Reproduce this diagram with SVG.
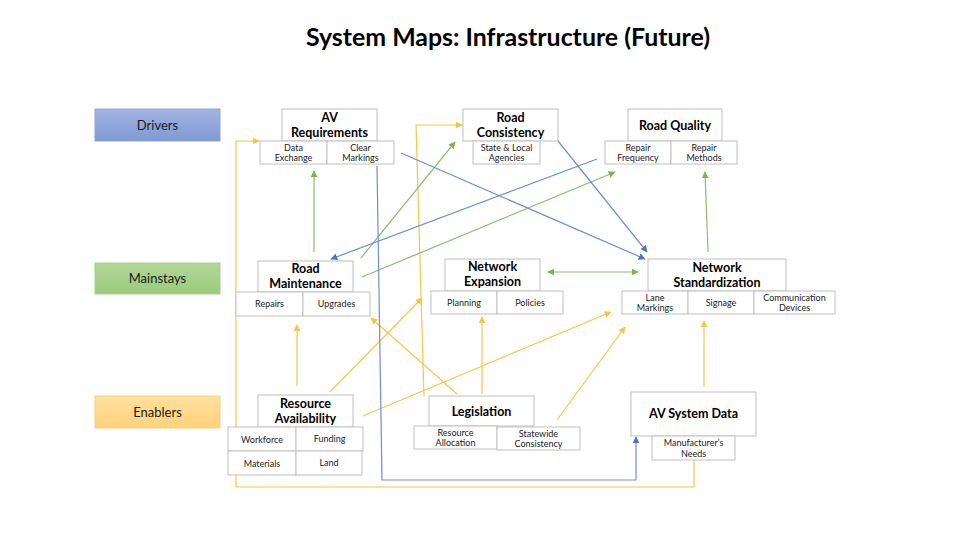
<svg xmlns="http://www.w3.org/2000/svg" width="960" height="540" viewBox="0 0 960 540">
<style>
.bx{fill:#fff;stroke:#BFBFBF;stroke-width:1}
.t{font-family:Lato,"Liberation Sans",sans-serif;font-weight:bold;font-size:12.5px;fill:#000;text-anchor:middle}
.s{font-family:Lato,"Liberation Sans",sans-serif;font-size:9px;fill:#222;text-anchor:middle}
.lb{font-family:Lato,"Liberation Sans",sans-serif;font-size:13px;fill:#1a1a1a;text-anchor:middle}
.y{fill:none;stroke:#F6C646;stroke-width:1.2}
.g{fill:none;stroke:#8DBF6A;stroke-width:1.2}
.b{fill:none;stroke:#6F8FD0;stroke-width:1.2}
</style>
<defs>
<linearGradient id="gb" x1="0" y1="0" x2="0" y2="1"><stop offset="0" stop-color="#A3B5E3"/><stop offset="1" stop-color="#7F99D4"/></linearGradient>
<linearGradient id="gg" x1="0" y1="0" x2="0" y2="1"><stop offset="0" stop-color="#B1D798"/><stop offset="1" stop-color="#9BCB7D"/></linearGradient>
<linearGradient id="gy" x1="0" y1="0" x2="0" y2="1"><stop offset="0" stop-color="#FFE09E"/><stop offset="1" stop-color="#FFD27A"/></linearGradient>
<marker id="ay" viewBox="0 0 10 10" refX="9" refY="5" markerWidth="7" markerHeight="7" markerUnits="userSpaceOnUse" orient="auto-start-reverse"><path d="M0,0L10,5L0,10z" fill="#F6C646"/></marker>
<marker id="ag" viewBox="0 0 10 10" refX="9" refY="5" markerWidth="7" markerHeight="7" markerUnits="userSpaceOnUse" orient="auto-start-reverse"><path d="M0,0L10,5L0,10z" fill="#7DB356"/></marker>
<marker id="ab" viewBox="0 0 10 10" refX="9" refY="5" markerWidth="7" markerHeight="7" markerUnits="userSpaceOnUse" orient="auto-start-reverse"><path d="M0,0L10,5L0,10z" fill="#4F73C0"/></marker>
</defs>
<rect width="960" height="540" fill="#fff"/>
<text x="508" y="46" font-family="Lato,'Liberation Sans',sans-serif" font-weight="bold" font-size="24" text-anchor="middle" textLength="404" lengthAdjust="spacingAndGlyphs">System Maps: Infrastructure (Future)</text>

<g id="label-drivers"><rect x="95" y="109" width="125" height="32" fill="url(#gb)" stroke="#8EA3D6"/><text class="lb" x="157.5" y="130">Drivers</text></g>
<g id="label-mainstays"><rect x="95" y="263" width="125" height="31" fill="url(#gg)" stroke="#A6CF8C"/><text class="lb" x="157.5" y="283">Mainstays</text></g>
<g id="label-enablers"><rect x="95" y="396" width="125" height="32" fill="url(#gy)" stroke="#F5D080"/><text class="lb" x="157.5" y="417">Enablers</text></g>

<g id="connectors">
<polyline class="y" points="694,460 694,487 236,487 236,141 259,141" marker-end="url(#ay)"/>
<polyline class="y" points="424,396 416,125 462,125" marker-end="url(#ay)"/>
<line class="y" x1="330" y1="392" x2="422" y2="298" marker-end="url(#ay)"/>
<line class="y" x1="363" y1="416" x2="611" y2="312" marker-end="url(#ay)"/>
<line class="y" x1="297" y1="386" x2="297" y2="325" marker-end="url(#ay)"/>
<line class="y" x1="457" y1="394" x2="371" y2="318" marker-end="url(#ay)"/>
<line class="y" x1="482" y1="394" x2="482" y2="317" marker-end="url(#ay)"/>
<line class="y" x1="557" y1="420" x2="625" y2="327" marker-end="url(#ay)"/>
<line class="y" x1="704" y1="387" x2="704" y2="321" marker-end="url(#ay)"/>

<line class="g" x1="314" y1="252" x2="314" y2="171" marker-end="url(#ag)"/>
<line class="g" x1="361" y1="258" x2="455" y2="142" marker-end="url(#ag)"/>
<line class="g" x1="362" y1="277" x2="615" y2="172" marker-end="url(#ag)"/>
<line class="g" x1="708" y1="252" x2="705" y2="172" marker-end="url(#ag)"/>
<line class="g" x1="548" y1="272" x2="638" y2="272" marker-start="url(#ag)" marker-end="url(#ag)"/>

<line class="b" x1="401" y1="153" x2="645" y2="259" marker-end="url(#ab)"/>
<line class="b" x1="558" y1="141" x2="647" y2="252" marker-end="url(#ab)"/>
<line class="b" x1="597" y1="159" x2="331" y2="259" marker-end="url(#ab)"/>
<polyline class="b" points="377,166 382,480 636,480 636,437" marker-end="url(#ab)"/>
</g>

<g id="node-av-requirements">
<rect class="bx" x="282" y="109" width="95" height="32"/>
<text class="t" x="329.5" y="122">AV</text><text class="t" x="329.5" y="137">Requirements</text>
<rect class="bx" x="260" y="141" width="67" height="23"/><rect class="bx" x="327" y="141" width="67" height="23"/>
<text class="s" x="293.5" y="150.5">Data</text><text class="s" x="293.5" y="161">Exchange</text>
<text class="s" x="360.5" y="150.5">Clear</text><text class="s" x="360.5" y="161">Markings</text>
</g>

<g id="node-road-consistency">
<rect class="bx" x="463" y="109" width="95" height="32"/>
<text class="t" x="510.5" y="122">Road</text><text class="t" x="510.5" y="137">Consistency</text>
<rect class="bx" x="473" y="141" width="67" height="23"/>
<text class="s" x="506.5" y="150.5">State &amp; Local</text><text class="s" x="506.5" y="161">Agencies</text>
</g>

<g id="node-road-quality">
<rect class="bx" x="628" y="109" width="94" height="32"/>
<text class="t" x="675" y="130">Road Quality</text>
<rect class="bx" x="605" y="141" width="66" height="23"/><rect class="bx" x="671" y="141" width="66" height="23"/>
<text class="s" x="638" y="150.5">Repair</text><text class="s" x="638" y="161">Frequency</text>
<text class="s" x="704" y="150.5">Repair</text><text class="s" x="704" y="161">Methods</text>
</g>

<g id="node-road-maintenance">
<rect class="bx" x="258" y="261" width="95" height="31"/>
<text class="t" x="305.5" y="273">Road</text><text class="t" x="305.5" y="288">Maintenance</text>
<rect class="bx" x="236" y="292" width="67" height="24"/><rect class="bx" x="303" y="292" width="67" height="24"/>
<text class="s" x="269.5" y="307">Repairs</text><text class="s" x="336.5" y="307">Upgrades</text>
</g>

<g id="node-network-expansion">
<rect class="bx" x="445" y="259" width="95" height="32"/>
<text class="t" x="492.5" y="271">Network</text><text class="t" x="492.5" y="286">Expansion</text>
<rect class="bx" x="431" y="291" width="66" height="23"/><rect class="bx" x="497" y="291" width="66" height="23"/>
<text class="s" x="464" y="306">Planning</text><text class="s" x="530" y="306">Policies</text>
</g>

<g id="node-network-standardization">
<rect class="bx" x="648" y="259" width="138" height="32"/>
<text class="t" x="717" y="271.5">Network</text><text class="t" x="717" y="287">Standardization</text>
<rect class="bx" x="622" y="291" width="66" height="23"/><rect class="bx" x="688" y="291" width="66" height="23"/><rect class="bx" x="754" y="291" width="81" height="23"/>
<text class="s" x="655" y="300.5">Lane</text><text class="s" x="655" y="311">Markings</text>
<text class="s" x="721" y="306">Signage</text>
<text class="s" x="794.5" y="300.5">Communication</text><text class="s" x="794.5" y="311">Devices</text>
</g>

<g id="node-resource-availability">
<rect class="bx" x="258" y="395" width="95" height="32"/>
<text class="t" x="305.5" y="408">Resource</text><text class="t" x="305.5" y="423">Availability</text>
<rect class="bx" x="228" y="427" width="68" height="24"/><rect class="bx" x="296" y="427" width="67" height="24"/>
<rect class="bx" x="228" y="451" width="68" height="24"/><rect class="bx" x="296" y="451" width="66" height="24"/>
<text class="s" x="262" y="442.5">Workforce</text><text class="s" x="329.5" y="441.5">Funding</text>
<text class="s" x="262" y="466.5">Materials</text><text class="s" x="329" y="465.5">Land</text>
</g>

<g id="node-legislation">
<rect class="bx" x="429" y="396" width="105" height="30"/>
<text class="t" x="481.5" y="415.5">Legislation</text>
<rect class="bx" x="414" y="426" width="83" height="23"/><rect class="bx" x="497" y="427" width="83" height="23"/>
<text class="s" x="455.5" y="435.5">Resource</text><text class="s" x="455.5" y="446">Allocation</text>
<text class="s" x="538.5" y="436.5">Statewide</text><text class="s" x="538.5" y="447">Consistency</text>
</g>

<g id="node-av-system-data">
<rect class="bx" x="631" y="392" width="125" height="44"/>
<text class="t" x="693.5" y="418">AV System Data</text>
<rect class="bx" x="652" y="436" width="83" height="24"/>
<text class="s" x="693.5" y="445.5">Manufacturer’s</text><text class="s" x="693.5" y="456.5">Needs</text>
</g>
</svg>
